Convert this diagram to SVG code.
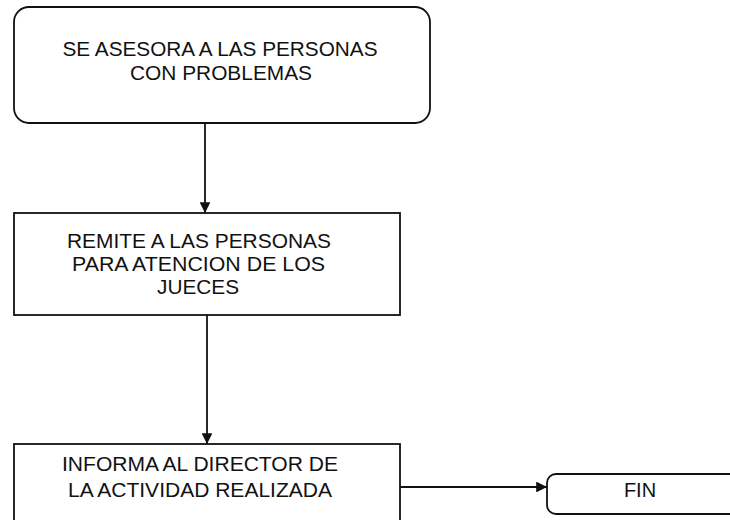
<svg xmlns="http://www.w3.org/2000/svg" width="730" height="520" viewBox="0 0 730 520">
  <style>
    .box { fill: #ffffff; stroke: #111111; stroke-width: 1.8; }
    .lbl { font-family: "Liberation Sans", Arial, sans-serif; font-size: 20px; fill: #111111; text-anchor: middle; }
    .conn { stroke: #111111; stroke-width: 1.8; fill: none; }
  </style>
  <defs>
    <marker id="arrow" viewBox="0 0 10 10" refX="10" refY="5" markerWidth="7" markerHeight="6" markerUnits="strokeWidth" orient="auto">
      <path d="M0,0 L10,5 L0,10 Z" fill="#111111"/>
    </marker>
  </defs>
  <rect width="730" height="520" fill="#ffffff"/>

  <g id="connectors">
    <line class="conn" x1="205" y1="123" x2="205" y2="213" marker-end="url(#arrow)"/>
    <line class="conn" x1="207" y1="315" x2="207" y2="444" marker-end="url(#arrow)"/>
    <line class="conn" x1="400" y1="487" x2="547" y2="487" marker-end="url(#arrow)"/>
  </g>

  <g id="node-asesora">
    <rect class="box" x="14" y="7" width="416" height="116" rx="15" ry="15"/>
    <text class="lbl" x="220" y="56" textLength="315" lengthAdjust="spacingAndGlyphs">SE ASESORA A LAS PERSONAS</text>
    <text class="lbl" x="221" y="80" textLength="182" lengthAdjust="spacingAndGlyphs">CON PROBLEMAS</text>
  </g>

  <g id="node-remite">
    <rect class="box" x="14" y="213" width="386" height="102"/>
    <text class="lbl" x="199" y="248" textLength="264" lengthAdjust="spacingAndGlyphs">REMITE A LAS PERSONAS</text>
    <text class="lbl" x="198.5" y="271" textLength="253" lengthAdjust="spacingAndGlyphs">PARA ATENCION DE LOS</text>
    <text class="lbl" x="198" y="294" textLength="82" lengthAdjust="spacingAndGlyphs">JUECES</text>
  </g>

  <g id="node-informa">
    <rect class="box" x="14" y="444" width="386" height="90"/>
    <text class="lbl" x="200" y="471" textLength="276" lengthAdjust="spacingAndGlyphs">INFORMA AL DIRECTOR DE</text>
    <text class="lbl" x="200" y="497" textLength="264" lengthAdjust="spacingAndGlyphs">LA ACTIVIDAD REALIZADA</text>
  </g>

  <g id="node-fin">
    <rect class="box" x="547" y="474" width="200" height="40" rx="9" ry="9"/>
    <text class="lbl" x="640" y="497">FIN</text>
  </g>
</svg>
